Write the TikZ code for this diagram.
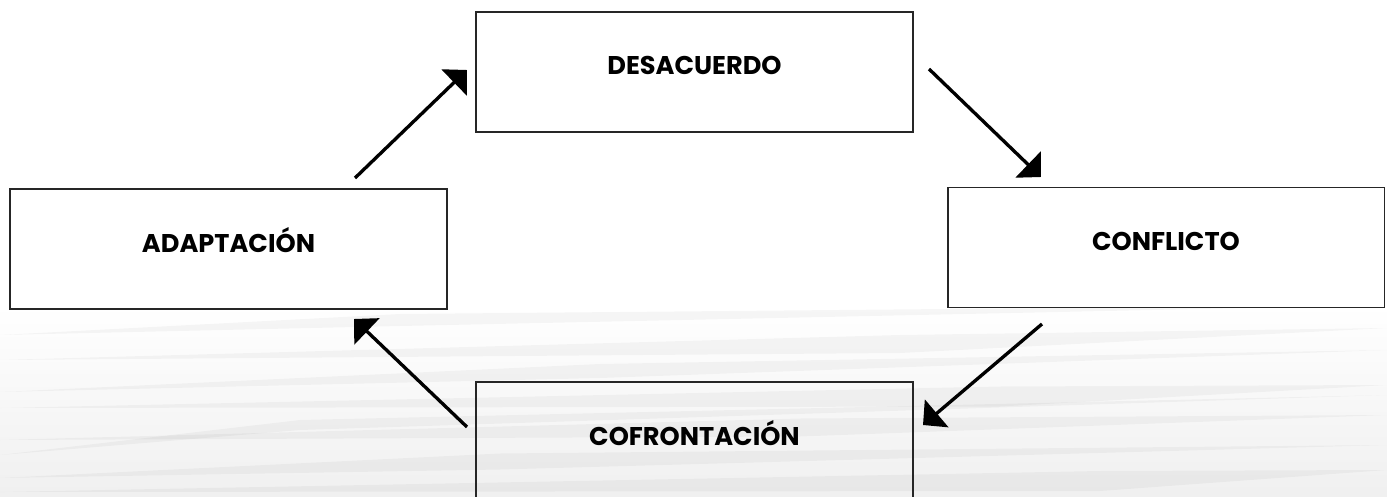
\documentclass[tikz,border=0pt]{standalone}
\usepackage{fontspec}
\setmainfont{Poppins}
\usetikzlibrary{arrows.meta}

\begin{document}
\begin{tikzpicture}[x=0.02cm, y=-0.02cm,
	etapa/.style = {shape=rectangle, draw=black!85, line width=1.1pt,
		minimum width=8.74cm, inner sep=0pt,
		text height=1.26cm, text depth=1.14cm,
		font=\fontsize{14.6}{17}\selectfont\bfseries},
	flecha/.style = {line width=1.9pt, -{Triangle[length=0.36cm, width=0.72cm]}},
	veta/.style = {fill=black, opacity=0.035}]
	\useasboundingbox (0,0) rectangle (1387,497);
	\fill[top color=white, bottom color=black!6] (0,305) rectangle (1387,497);
	\foreach \yl/\yr/\t/\xm in {335/305/6/400, 360/328/9/900, 392/350/7/600,
		408/385/10/1000, 455/395/5/300, 440/415/9/800, 478/445/8/500, 492/470/10/1100}
		\fill[veta] (0,\yl) -- (\xm,{(\yl+\yr)/2-\t}) -- (1387,\yr)
			-- (\xm,{(\yl+\yr)/2+\t}) -- cycle;
	\node[etapa, fill=white] (desacuerdo) at (694.5,72) {DESACUERDO};
	\node[etapa, fill=white] (conflicto) at (1166,247.5) {CONFLICTO};
	\node[etapa] (cofrontacion) at (694.5,442) {COFRONTACIÓN};
	\node[etapa, fill=white] (adaptacion) at (228.5,249) {ADAPTACIÓN};
	\coordinate (sale1) at (355,178);  \coordinate (llega1) at (467,70);
	\coordinate (sale2) at (929,69);   \coordinate (llega2) at (1041,177);
	\coordinate (sale3) at (1042,324); \coordinate (llega3) at (923,425);
	\coordinate (sale4) at (467,427);  \coordinate (llega4) at (354,319);
	\draw[flecha] (sale1) -- (llega1);
	\draw[flecha] (sale2) -- (llega2);
	\draw[flecha] (sale3) -- (llega3);
	\draw[flecha] (sale4) -- (llega4);
\end{tikzpicture}
\end{document}
